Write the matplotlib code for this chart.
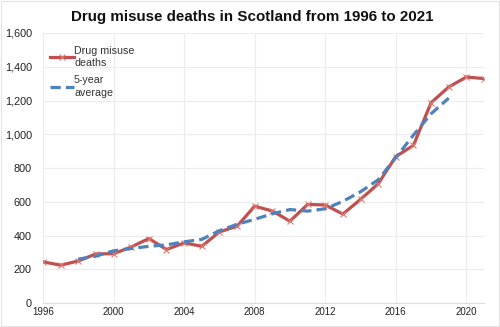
import matplotlib.pyplot as plt
from matplotlib.ticker import FuncFormatter, MultipleLocator
from matplotlib.patches import Rectangle

plt.rcParams['font.family'] = ['Liberation Sans', 'DejaVu Sans']

# drug misuse deaths per year (NRS figures)
years = list(range(1996, 2022))
deaths = [244, 224, 249, 291, 292, 332, 382, 317, 356, 336, 421, 455, 574,
          545, 485, 584, 581, 527, 614, 706, 868, 934, 1187, 1280, 1339, 1330]

# centred 5-year average, 1998 to 2019
avg_years = list(range(1998, 2020))
avg_values = [260.0, 277.6, 309.2, 322.8, 335.8, 344.6, 362.4, 377.0, 428.4,
              466.2, 496.0, 528.6, 553.8, 544.4, 558.2, 602.4, 659.2, 729.8,
              861.8, 995.0, 1121.6, 1214.0]

red = '#c0504d'
blue = '#4f81bd'

fig = plt.figure(figsize=(5.0, 3.27), dpi=100)
ax = fig.add_axes([43 / 500, 1 - 303 / 327, (484 - 43) / 500, (303 - 33) / 327])

ax.plot(years, deaths, color=red, lw=2.3, marker='x', ms=4, mew=0.8,
        mec='#e07a78', label='Drug misuse\ndeaths', zorder=3)
ax.plot(avg_years, avg_values, color=blue, lw=2.3, ls=(0, (3.2, 1.6)),
        label='5-year\naverage', zorder=4)

ax.set_xlim(1996, 2021)
ax.set_ylim(0, 1600)
ax.xaxis.set_major_locator(MultipleLocator(4))
ax.yaxis.set_major_locator(MultipleLocator(200))
ax.yaxis.set_major_formatter(FuncFormatter(lambda v, p: f'{int(v):,}'))
ax.grid(True, color='#ececec', lw=0.8)
ax.set_axisbelow(True)
for s in ['top', 'right', 'left']:
    ax.spines[s].set_visible(False)
ax.spines['bottom'].set_color('#dddddd')
ax.tick_params(axis='y', length=0, labelsize=7.8, pad=8, colors='#222222')
ax.tick_params(axis='x', length=0, labelsize=7.0, pad=3, colors='#222222')

leg = ax.legend(loc='upper left', bbox_to_anchor=(0.0, 0.98), frameon=False,
                fontsize=7.7, handlelength=2.2, handletextpad=0.0,
                labelspacing=0.65, borderaxespad=0.3)
for t in leg.get_texts():
    t.set_color('#333333')
    t.set_linespacing(1.3)

fig.text(0.504, 0.948, 'Drug misuse deaths in Scotland from 1996 to 2021',
         ha='center', va='center', fontsize=10.9, fontweight='bold',
         color='#111111')

# thin frame round the image
fig.patches.append(Rectangle((0.002, 0.003), 0.996, 0.994, transform=fig.transFigure,
                             fill=False, ec='#e4e4e4', lw=0.8))

fig.savefig('out.png', dpi=100)
